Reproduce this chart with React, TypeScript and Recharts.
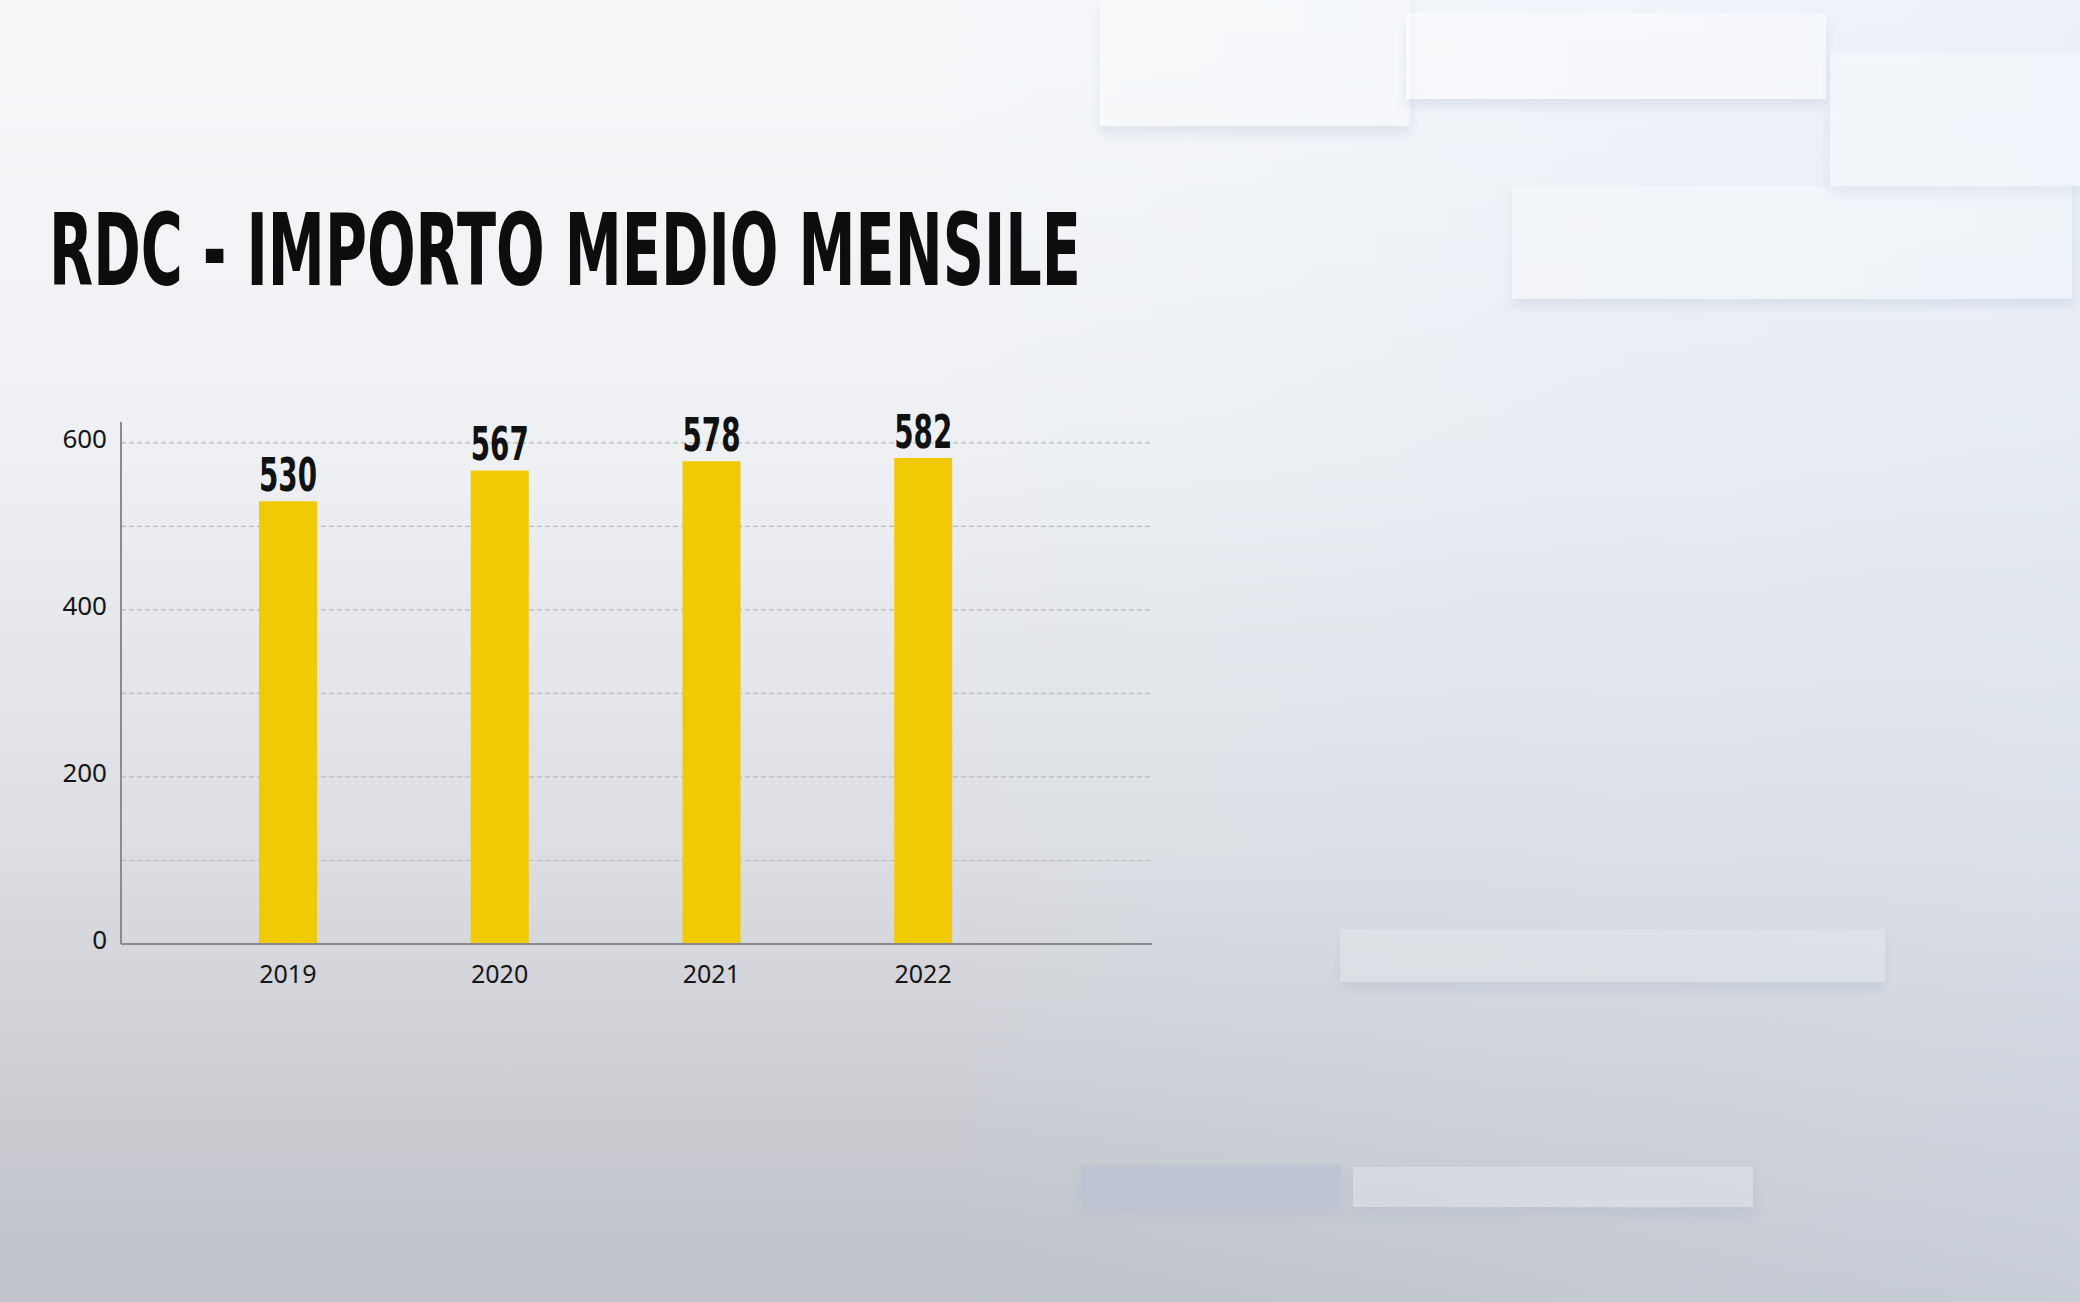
import { BarChart, Bar, XAxis, YAxis, CartesianGrid, LabelList } from "recharts";

const years = ["2019", "2020", "2021", "2022"];
const importoMedio = [530, 567, 578, 582];
const yTicks = [0, 100, 200, 300, 400, 500, 600];
const yLabelled = [0, 200, 400, 600];

const title = "RDC - IMPORTO MEDIO MENSILE";

const data = years.map((year, i) => ({ year, importo: importoMedio[i] }));

const condensed = "'Liberation Sans Narrow', 'DejaVu Sans Condensed', 'Liberation Sans', sans-serif";

// pannelli decorativi dello sfondo
const panels = [
  { left: 1100, top: 0, width: 310, height: 126, bg: "rgba(255,255,255,0.3)" },
  { left: 1406, top: 13, width: 420, height: 86, bg: "rgba(255,255,255,0.45)" },
  { left: 1830, top: 53, width: 250, height: 133, bg: "rgba(255,255,255,0.35)" },
  { left: 1512, top: 186, width: 560, height: 113, bg: "rgba(255,255,255,0.3)" },
  { left: 1340, top: 929, width: 545, height: 53, bg: "rgba(255,255,255,0.18)" },
  { left: 1081, top: 1165, width: 260, height: 42, bg: "rgba(160,180,210,0.25)" },
  { left: 1353, top: 1167, width: 400, height: 40, bg: "rgba(235,238,242,0.4)" },
];

function ValueLabel(props: any) {
  const { x, y, width, value } = props;
  return (
    <text
      x={x + width / 2}
      y={y - 10}
      textAnchor="middle"
      fontFamily={condensed}
      fontWeight={700}
      fontSize={46}
      fill="#111"
      textLength={58}
      lengthAdjust="spacingAndGlyphs"
    >
      {String(value)}
    </text>
  );
}

export default function App() {
  return (
    <div
      style={{
        position: "absolute",
        left: 0,
        top: 0,
        width: 2080,
        height: 1302,
        overflow: "hidden",
        background: "linear-gradient(180deg, #f7f8fa 0%, #eef0f3 35%, #dcdee2 65%, #c8cad0 88%, #bfc2c9 100%)",
      }}
    >
      <div
        style={{
          position: "absolute",
          inset: 0,
          background: "linear-gradient(90deg, rgba(255,255,255,0) 45%, rgba(215,228,245,0.35) 100%)",
        }}
      />
      {panels.map((p, i) => (
        <div
          key={i}
          style={{
            position: "absolute",
            left: p.left,
            top: p.top,
            width: p.width,
            height: p.height,
            background: p.bg,
            boxShadow: "0 8px 10px rgba(150,170,200,0.2)",
          }}
        />
      ))}
      <svg width={2080} height={320} style={{ position: "absolute", left: 0, top: 0 }}>
        <text
          x={49}
          y={285}
          fontFamily={condensed}
          fontWeight={700}
          fontSize={100}
          fill="#0d0d0d"
          textLength={1032}
          lengthAdjust="spacingAndGlyphs"
        >
          {title}
        </text>
      </svg>
      <div style={{ position: "absolute", left: 0, top: 0 }}>
        <BarChart
          width={2080}
          height={1302}
          data={data}
          margin={{ top: 422, right: 928, bottom: 298, left: 0 }}
        >
          <CartesianGrid
            vertical={false}
            horizontalValues={yTicks}
            stroke="#b9babd"
            strokeDasharray="5 3"
            strokeWidth={1.2}
          />
          <XAxis
            dataKey="year"
            height={60}
            padding={{ left: 61, right: 123 }}
            axisLine={{ stroke: "#8a8b8e", strokeWidth: 2 }}
            tickLine={false}
            tickMargin={15}
            tick={{ fill: "#161616", fontSize: 25, fontFamily: "'Noto Sans', sans-serif" }}
          />
          <YAxis
            width={121}
            domain={[0, 625]}
            ticks={yTicks}
            interval={0}
            axisLine={{ stroke: "#8a8b8e", strokeWidth: 2 }}
            tickLine={false}
            tickMargin={8}
            tickFormatter={(v: number) => (yLabelled.includes(v) ? String(v) : "")}
            tick={{ fill: "#161616", fontSize: 26, fontFamily: "'Noto Sans', sans-serif", dy: -4 }}
          />
          <Bar dataKey="importo" fill="#f0ca05" barSize={58} isAnimationActive={false}>
            <LabelList dataKey="importo" content={<ValueLabel />} />
          </Bar>
        </BarChart>
      </div>
    </div>
  );
}
